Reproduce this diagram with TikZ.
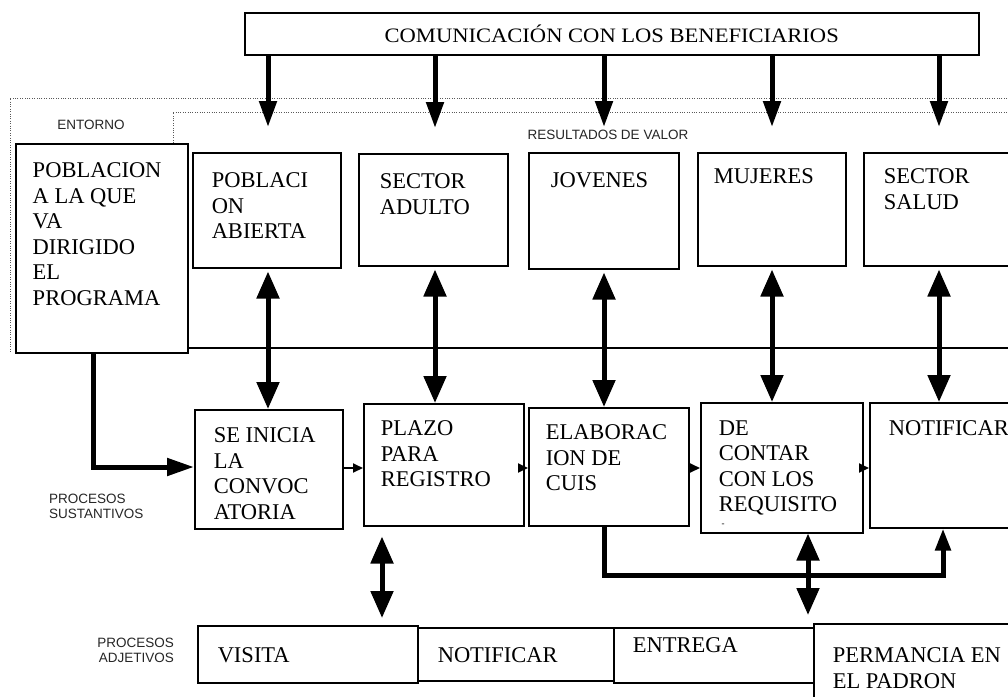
\documentclass[tikz,border=0pt]{standalone}
\usepackage{fontspec}
\setmainfont{Liberation Serif}
\newfontfamily\lblfont{Liberation Sans}
\usetikzlibrary{arrows.meta}
% width, height, top pad, left pad, text
\newcommand{\boxtxt}[5]{\parbox[c][#2pt][t]{#1pt}{\parskip=0pt\vspace*{#3pt}\raggedright\leftskip=#4pt\relax\fontsize{22.5}{25.5}\selectfont #5\par}}
\tikzset{
  bx/.style={draw, line width=1.5pt, anchor=north west, inner sep=0pt},
  lbl/.style={inner sep=0pt, font=\lblfont\fontsize{13.5}{15}\selectfont, text=black!85},
  dotline/.style={line width=1pt, black!65, dash pattern=on 1pt off 1.4pt},
  toparr/.style={line width=5pt, -{Triangle[length=26pt,width=17pt]}, shorten >=25pt},
  dblarr/.style={line width=5pt, {Triangle[length=27pt,width=22pt]}-{Triangle[length=27pt,width=22pt]}},
  entarr/.style={line width=5pt, -{Triangle[length=27pt,width=17pt]}},
  smarr/.style={line width=1.8pt, -{Triangle[length=10pt,width=9pt]}},
  upthin/.style={line width=5pt, -{Triangle[length=22pt,width=15pt]}},
}
\begin{document}
\begin{tikzpicture}[x=1pt,y=-1pt]
\useasboundingbox (0,0) rectangle (1008,696);
\clip (0,0) rectangle (1008,696);
\fill[white] (0,0) rectangle (1008,696);

% dotted frames
\draw[dotline] (1012,98) -- (10,98) -- (10,352);
\draw[dotline] (173,143) -- (173,112) -- (1012,112);

% title
\node[bx, minimum width=734pt, minimum height=42pt, text height=18pt, text depth=0pt] (top) at (244,12)
  {\scalebox{1.1}[1]{\fontsize{20.5}{24}\selectfont COMUNICACIÓN CON LOS BENEFICIARIOS}};

% labels
\node[lbl] (lent) at (91,125) {ENTORNO};
\node[lbl] (lres) at (608,135) {RESULTADOS DE VALOR};
\node[lbl, align=left, anchor=west] (lsus) at (49,506) {PROCESOS\\SUSTANTIVOS};
\node[lbl, align=right, anchor=east] (ladj) at (174,650) {PROCESOS\\ADJETIVOS};

% entorno box
\node[bx] (p1) at (15,143) {\boxtxt{172}{209}{19}{17}{POBLACION\\A LA QUE\\VA\\DIRIGIDO\\EL\\PROGRAMA}};

% results row
\node[bx] (r1) at (192,152) {\boxtxt{148}{115}{20}{19}{POBLACI\\ON\\ABIERTA}};
\node[bx] (r2) at (358,153) {\boxtxt{149}{112}{20}{21}{SECTOR\\ADULTO}};
\node[bx] (r3) at (528,152) {\boxtxt{150}{116}{20}{22}{JOVENES}};
\node[bx] (r4) at (697,152) {\boxtxt{148}{113}{16}{16}{MUJERES}};
\node[bx] (r5) at (863,152) {\boxtxt{160}{113}{16}{20}{SECTOR\\SALUD}};

% horizontal separator
\coordinate (hl) at (1012,348);
\draw[line width=2pt] (p1.south east |- hl) -- (hl);

% process row
\node[bx] (s1) at (194,409) {\boxtxt{148}{119}{18}{19}{SE INICIA\\LA\\CONVOC\\ATORIA}};
\node[bx] (s2) at (363,403) {\boxtxt{160}{122}{17}{17}{PLAZO\\PARA\\REGISTRO}};
\node[bx] (s3) at (528,407) {\boxtxt{160}{118}{17}{17}{ELABORAC\\ION DE\\CUIS}};
\node[bx] (s4) at (700,402) {\boxtxt{162}{130}{18}{18}{DE\\CONTAR\\CON LOS\\REQUISITO}};
\node[inner sep=0pt, font=\fontsize{9}{9}\selectfont] (s4dash) at (723,525) {-};
\node[bx] (s5) at (869,402) {\boxtxt{150}{125}{18}{19}{NOTIFICAR}};

% bottom row
\node[bx] (b1) at (197,625) {\boxtxt{220}{57}{22}{20}{VISITA}};
\node[bx] (b2) at (417,627) {\boxtxt{196}{53}{20}{20}{NOTIFICAR}};
\node[bx] (b3) at (613,627) {\boxtxt{200}{55}{10}{19}{ENTREGA}};
\node[bx] (b4) at (813,623) {\boxtxt{210}{80}{24}{19}{PERMANCIA EN\\EL PADRON}};

% columns
\coordinate (c1) at (268,0);
\coordinate (c2) at (435,0);
\coordinate (c3) at (604,0);
\coordinate (c4) at (772,0);
\coordinate (c5) at (939,0);

% top arrows
\draw[toparr] (top.south -| c1) -- (r1.north -| c1);
\draw[toparr] (top.south -| c2) -- (r2.north -| c2);
\draw[toparr] (top.south -| c3) -- (r3.north -| c3);
\draw[toparr] (top.south -| c4) -- (r4.north -| c4);
\draw[toparr] (top.south -| c5) -- (r5.north -| c5);

% double arrows row1 - row2
\draw[dblarr, shorten <=3pt] (r1.south -| c1) -- (s1.north -| c1);
\draw[dblarr, shorten <=3pt] (r2.south -| c2) -- (s2.north -| c2);
\draw[dblarr, shorten <=3pt] (r3.south -| c3) -- (s3.north -| c3);
\draw[dblarr, shorten <=3pt] (r4.south -| c4) -- (s4.north -| c4);
\draw[dblarr, shorten <=3pt] (r5.south -| c5) -- (s5.north -| c5);

% entorno connector
\coordinate (e1) at (93,467);
\draw[entarr] (p1.south -| e1) |- (s1.west |- e1);

% small arrows in process row
\coordinate (cy) at (0,468);
\draw[smarr] (s1.east |- cy) -- (s2.west |- cy);
\draw[smarr] (s2.east |- cy) -- (s3.west |- cy);
\draw[smarr] (s3.east |- cy) -- (s4.west |- cy);
\draw[smarr] (s4.east |- cy) -- (s5.west |- cy);

% bottom connectors
\coordinate (bc) at (943,575);
\draw[upthin] (s3.south -| c3) |- (bc) -- (s5.south -| bc);
\coordinate (d1) at (382,0);
\draw[dblarr, shorten <=10pt, shorten >=7pt] (s2.south -| d1) -- (b1.north -| d1);
\coordinate (d2) at (808,0);
\draw[dblarr, shorten >=8pt] (s4.south -| d2) -- (b4.north -| d2);
\end{tikzpicture}
\end{document}
